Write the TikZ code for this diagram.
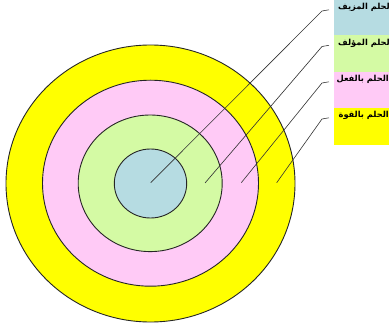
\documentclass[tikz,border=0pt]{standalone}
\usepackage{fontspec}
\newfontfamily\arabicfont[Script=Arabic]{DejaVu Sans}
\TeXXeTstate=1
\definecolor{cblue}{RGB}{182,220,226}
\definecolor{cgreen}{RGB}{212,250,164}
\definecolor{cpink}{RGB}{255,202,246}
\definecolor{cyellow}{RGB}{255,255,0}
\tikzset{
  ring/.style={draw=black!85, line width=0.9pt},
  leader/.style={draw=black!80, line width=0.6pt},
  lbox/.style={draw=none, minimum width=56pt, minimum height=36.5pt, anchor=north west, inner sep=0pt},
  ltext/.style={anchor=east, inner sep=0pt, font=\arabicfont\bfseries\fontsize{8.3}{9}\selectfont}
}
\begin{document}
\begin{tikzpicture}[x=1pt,y=-1pt]
\useasboundingbox (0,0) rectangle (389,329);
\fill[white] (0,0) rectangle (389,329);
% rings
\draw[ring, fill=cyellow] (150.5,183.5) ellipse [x radius=144.5pt, y radius=138.5pt];
\draw[ring, fill=cpink] (150.5,183.2) ellipse [x radius=108pt, y radius=103pt];
\draw[ring, fill=cgreen] (150.2,183.3) ellipse [x radius=72pt, y radius=68.3pt];
\draw[ring, fill=cblue] (150.5,183.5) ellipse [x radius=36.2pt, y radius=34.5pt];
% label boxes
\node[lbox, fill=cblue] (bblue) at (333.3,-1) {};
\node[lbox, fill=cgreen] (bgreen) at (333.3,35) {};
\node[lbox, fill=cpink] (bpink) at (333.3,71.7) {};
\node[lbox, fill=cyellow] (byellow) at (333.3,108.3) {};
% labels
\node[ltext] (t1) at (390,7) {\beginR لحلم المزيف\endR};
\node[ltext] (t2) at (390,43.5) {\beginR لحلم المؤلف\endR};
\node[ltext] (t3) at (389,79.5) {\beginR الحلم بالفعل\endR};
\node[ltext] (t4) at (389,115) {\beginR الحلم بالقوة\endR};
% leader coordinates
\coordinate (s1) at (150.7,182.7);
\coordinate (s2) at (205,183);
\coordinate (s3) at (241.3,182.7);
\coordinate (s4) at (276.7,182.7);
\coordinate (k1) at (322,11);
\coordinate (k2) at (322,46.5);
\coordinate (k3) at (322,83);
\coordinate (k4) at (322,119);
\coordinate (e1) at (329,9.8);
\coordinate (e2) at (329,45.3);
\coordinate (e3) at (329,81.8);
\coordinate (e4) at (329,117.8);
\draw[leader] (s1) -- (k1) -- (e1);
\draw[leader] (s2) -- (k2) -- (e2);
\draw[leader] (s3) -- (k3) -- (e3);
\draw[leader] (s4) -- (k4) -- (e4);
\end{tikzpicture}
\end{document}
